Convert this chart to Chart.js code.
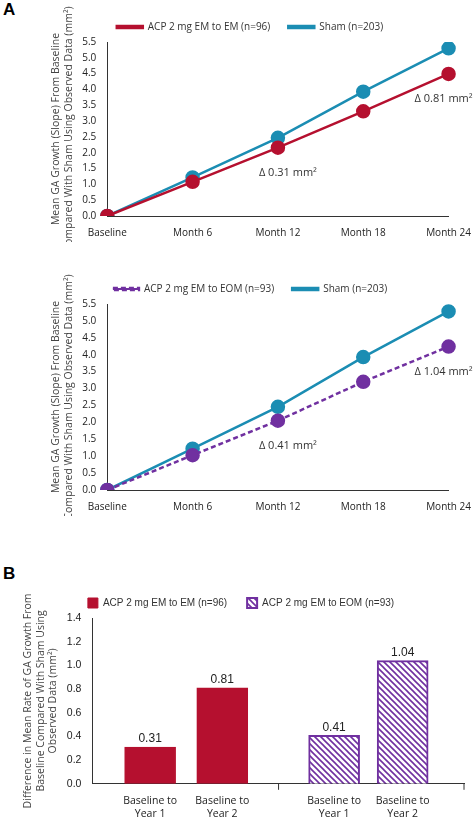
<!DOCTYPE html><html><head><meta charset="utf-8">
<script src="https://cdn.jsdelivr.net/npm/chart.js@4"></script>
<style>body{margin:0;background:#fff;width:474px;height:823px;position:relative;font-family:"Open Sans",sans-serif}
.c{position:absolute;left:0;width:474px}.lab{position:absolute;font:bold 17px "Liberation Sans",Arial;left:3px}</style></head><body>
<div class="lab" style="top:0px">A</div><div class="lab" style="top:564px">B</div>
<div class="c" style="top:0;height:242px"><canvas id="c1"></canvas></div>
<div class="c" style="top:262px;height:254px"><canvas id="c2"></canvas></div>
<div class="c" style="top:578px;height:245px"><canvas id="c3"></canvas></div>
<script>
const months=['Baseline','Month 6','Month 12','Month 18','Month 24'];
const acpEM=[0,1.08,2.16,3.31,4.49];
const shamA=[0,1.22,2.47,3.93,5.30];
const acpEOM=[0,1.03,2.05,3.20,4.24];
const shamB=[0,1.22,2.46,3.93,5.28];
const yTicksLine=[0,0.5,1,1.5,2,2.5,3,3.5,4,4.5,5,5.5];
const barLabels=[['Baseline to','Year 1'],['Baseline to','Year 2'],['Baseline to','Year 1'],['Baseline to','Year 2']];
const barPos=[0.8,1.8,3.35,4.3];
const barEM=[0.31,0.81];
const barEOM=[0.41,1.04];
const deltaA=['Δ 0.31 mm²','Δ 0.81 mm²'];
const deltaB=['Δ 0.41 mm²','Δ 1.04 mm²'];
const RED='#b5102f',BLUE='#1b8db3',PUR='#7030a0';
const F='"Open Sans",sans-serif';
Chart.defaults.font.family=F;Chart.defaults.color='#333';
const yTitle=['Mean GA Growth (Slope) From Baseline','Compared With Sham Using Observed Data (mm²)'];
function lineChart(id,ser,name,dash,sham,deltas){
 const deltaPlugin={id:'d',afterDatasetsDraw(ch){const c=ch.ctx,x=ch.scales.x,y=ch.scales.y;c.save();c.font='11px '+F;c.fillStyle='#333';c.textAlign='center';
  c.fillText(deltas[0],x.getPixelForValue(2)+10,y.getPixelForValue(ser[2])+25);
  c.fillText(deltas[1],x.getPixelForValue(4)-5,y.getPixelForValue(ser[4])+25);c.restore();}};
 new Chart(document.getElementById(id),{type:'line',data:{labels:months,datasets:[
  {label:name,data:ser,borderColor:dash?PUR:RED,backgroundColor:dash?PUR:RED,borderDash:dash?[5,3]:[],borderWidth:2.5,pointRadius:6,pointHoverRadius:6},
  {label:'Sham (n=203)',data:sham,borderColor:BLUE,backgroundColor:BLUE,borderWidth:2.5,pointRadius:6}]},
  options:{responsive:true,maintainAspectRatio:false,animation:false,layout:{padding:{left:46,right:20,top:4}},
  plugins:{legend:{labels:{font:{size:10},boxWidth:26,boxHeight:2,usePointStyle:false,padding:18}},tooltip:{enabled:false}},
  scales:{x:{offset:false,grid:{display:false},border:{color:'#333'},ticks:{font:{size:10},color:'#222'}},
   y:{min:0,max:5.5,afterBuildTicks(a){a.ticks=yTicksLine.map(v=>({value:v}))},grid:{display:false},border:{color:'#333'},
   ticks:{font:{size:10},color:'#222',callback:v=>v.toFixed(1)},title:{display:true,text:yTitle,font:{size:10.5},color:'#444'}}}},plugins:[deltaPlugin]});
}
lineChart('c1',acpEM,'ACP 2 mg EM to EM (n=96)',false,shamA,deltaA);
lineChart('c2',acpEOM,'ACP 2 mg EM to EOM (n=93)',true,shamB,deltaB);
function pattern(){const p=document.createElement('canvas');p.width=p.height=6;const g=p.getContext('2d');g.fillStyle='#fff';g.fillRect(0,0,6,6);g.strokeStyle=PUR;g.lineWidth=1.6;
 g.beginPath();g.moveTo(0,0);g.lineTo(6,6);g.moveTo(-3,3);g.lineTo(3,9);g.moveTo(3,-3);g.lineTo(9,3);g.stroke();return g.createPattern(p,'repeat');}
const pat=pattern();
const vals={id:'v',afterDatasetsDraw(ch){const c=ch.ctx;c.save();c.font='12px "Liberation Sans",Arial';c.fillStyle='#222';c.textAlign='center';
 ch.data.datasets.forEach((d,i)=>ch.getDatasetMeta(i).data.forEach((e,j)=>c.fillText(d.data[j].y.toFixed(2),e.x,e.y-8)));
 const x=ch.scales.x,y=ch.scales.y;c.strokeStyle='#333';c.lineWidth=1;c.beginPath();[2.58,5.15].forEach(v=>{const px=x.getPixelForValue(v);c.moveTo(px,y.bottom);c.lineTo(px,y.bottom+6)});c.stroke();c.restore();}};
new Chart(document.getElementById('c3'),{type:'bar',data:{datasets:[
 {label:'ACP 2 mg EM to EM (n=96)',data:barEM.map((v,i)=>({x:barPos[i],y:v})),backgroundColor:RED,borderColor:RED,borderWidth:1},
 {label:'ACP 2 mg EM to EOM (n=93)',data:barEOM.map((v,i)=>({x:barPos[i+2],y:v})),backgroundColor:pat,borderColor:PUR,borderWidth:2}]},
 options:{responsive:true,maintainAspectRatio:false,animation:false,layout:{padding:{left:18,right:10,top:0}},
 datasets:{bar:{barThickness:51,grouped:false}},
 plugins:{legend:{labels:{font:{size:10,family:'"Liberation Sans",Arial'},boxWidth:10,boxHeight:10,padding:20}},tooltip:{enabled:false}},
 scales:{x:{type:'linear',offset:false,min:0,max:5.15,afterBuildTicks(a){a.ticks=barPos.map(v=>({value:v}))},grid:{display:false},border:{color:'#333'},
  ticks:{autoSkip:false,maxRotation:0,font:{size:10.5},color:'#222',callback:(v,i)=>barLabels[i]}},
  y:{min:0,max:1.4,afterBuildTicks(a){a.ticks=[0,0.2,0.4,0.6,0.8,1,1.2,1.4].map(v=>({value:v}))},grid:{display:false},border:{color:'#333'},
  ticks:{font:{size:10.5,family:'"Liberation Sans",Arial'},color:'#222',callback:v=>v.toFixed(1)},
  title:{display:true,text:['Difference in Mean Rate of GA Growth From','Baseline Compared With Sham Using','Observed Data (mm²)'],font:{size:10.5},color:'#444'}}}},plugins:[vals]});
</script></body></html>
